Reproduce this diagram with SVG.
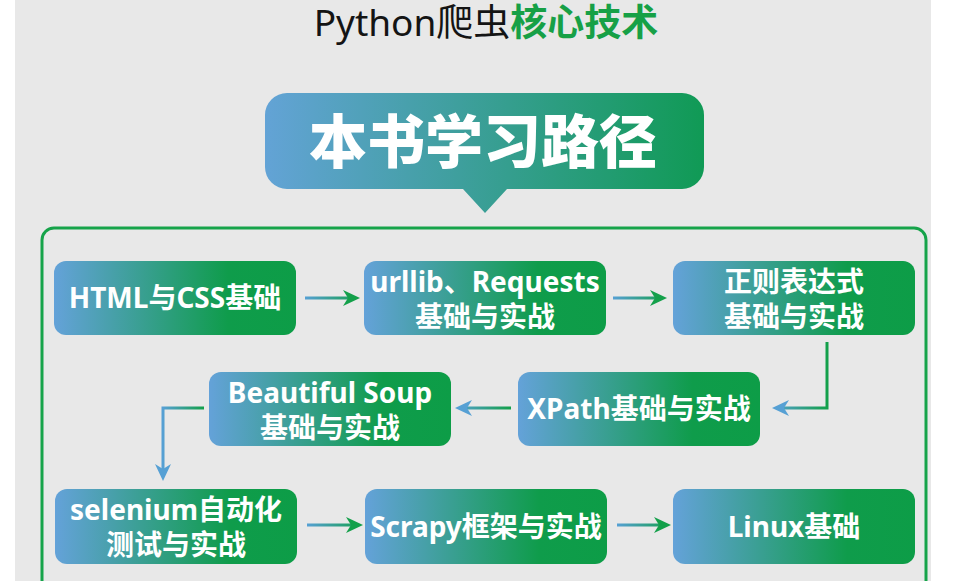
<svg xmlns="http://www.w3.org/2000/svg" width="972" height="581" viewBox="0 0 972 581">
<defs>
<style>
.nt{font-family:"Noto Sans","Noto Sans CJK SC",sans-serif;font-weight:700;font-size:28px;fill:#fff;text-anchor:middle}
.node rect{fill:url(#ng)}
.conn path{fill:none;stroke-width:3}
</style>
<linearGradient id="ng" x1="0" y1="0" x2="1" y2="0">
<stop offset="0" stop-color="#64a2d9"/>
<stop offset="0.72" stop-color="#0f9c4b"/>
<stop offset="1" stop-color="#0d9d47"/>
</linearGradient>
<linearGradient id="bg" x1="0" y1="0" x2="1" y2="0">
<stop offset="0" stop-color="#63a3d6"/>
<stop offset="1" stop-color="#109a55"/>
</linearGradient>
<linearGradient id="c1" gradientUnits="userSpaceOnUse" x1="305" y1="0" x2="360" y2="0"><stop offset="0" stop-color="#56a0d4"/><stop offset="1" stop-color="#13a04a"/></linearGradient>
<linearGradient id="c2" gradientUnits="userSpaceOnUse" x1="613" y1="0" x2="667" y2="0"><stop offset="0" stop-color="#56a0d4"/><stop offset="1" stop-color="#13a04a"/></linearGradient>
<linearGradient id="c3" gradientUnits="userSpaceOnUse" x1="772" y1="0" x2="827" y2="0"><stop offset="0" stop-color="#56a0d4"/><stop offset="1" stop-color="#13a04a"/></linearGradient>
<linearGradient id="c4" gradientUnits="userSpaceOnUse" x1="455" y1="0" x2="511" y2="0"><stop offset="0" stop-color="#56a0d4"/><stop offset="1" stop-color="#13a04a"/></linearGradient>
<linearGradient id="c5" gradientUnits="userSpaceOnUse" x1="163" y1="0" x2="204" y2="0"><stop offset="0" stop-color="#56a0d4"/><stop offset="1" stop-color="#13a04a"/></linearGradient>
<linearGradient id="c6" gradientUnits="userSpaceOnUse" x1="307" y1="0" x2="363" y2="0"><stop offset="0" stop-color="#56a0d4"/><stop offset="1" stop-color="#13a04a"/></linearGradient>
<linearGradient id="c7" gradientUnits="userSpaceOnUse" x1="617" y1="0" x2="671" y2="0"><stop offset="0" stop-color="#56a0d4"/><stop offset="1" stop-color="#13a04a"/></linearGradient>
<marker id="hg" viewBox="0 0 17 16" refX="5" refY="8" markerWidth="17" markerHeight="16" markerUnits="userSpaceOnUse" orient="auto">
<path d="M0,0 L17,8 L0,16 L5,8 Z" fill="#13a04a"/>
</marker>
<marker id="hb" viewBox="0 0 17 16" refX="5" refY="8" markerWidth="17" markerHeight="16" markerUnits="userSpaceOnUse" orient="auto">
<path d="M0,0 L17,8 L0,16 L5,8 Z" fill="#56a0d4"/>
</marker>
</defs>
<rect x="0" y="0" width="972" height="581" fill="#ffffff"/>
<rect x="15" y="0" width="916" height="581" fill="#e8e8e8"/>

<text x="486" y="36" text-anchor="middle" font-family="'Noto Sans','Noto Sans CJK SC',sans-serif" font-size="37"><tspan fill="#141414">Python爬虫</tspan><tspan fill="#17a046" font-weight="700">核心技术</tspan></text>

<g id="title-bubble">
<path d="M287,93 H682 A22,22 0 0 1 704,115 V167 A22,22 0 0 1 682,189 H507 L485,213 L463,189 H287 A22,22 0 0 1 265,167 V115 A22,22 0 0 1 287,93 Z" fill="url(#bg)"/>
<text x="483" y="163" text-anchor="middle" font-family="'Noto Sans CJK SC',sans-serif" font-weight="900" font-size="58" fill="#fff">本书学习路径</text>
</g>

<rect x="42" y="228" width="884" height="400" rx="12" fill="none" stroke="#16a34a" stroke-width="3"/>

<g id="n1" class="node"><rect x="54" y="261" width="242" height="74" rx="12"/><text class="nt" x="175" y="308">HTML与CSS基础</text></g>
<g id="n2" class="node"><rect x="364" y="261" width="242" height="74" rx="12"/><text class="nt" x="485" y="292">urllib、Requests</text><text class="nt" x="485" y="327">基础与实战</text></g>
<g id="n3" class="node"><rect x="673" y="261" width="242" height="74" rx="12"/><text class="nt" x="794" y="292">正则表达式</text><text class="nt" x="794" y="327">基础与实战</text></g>
<g id="n4" class="node"><rect x="518" y="372" width="242" height="74" rx="12"/><text class="nt" x="639" y="419">XPath基础与实战</text></g>
<g id="n5" class="node"><rect x="209" y="372" width="242" height="74" rx="12"/><text class="nt" x="330" y="403">Beautiful Soup</text><text class="nt" x="330" y="438">基础与实战</text></g>
<g id="n6" class="node"><rect x="55" y="489" width="242" height="75" rx="12"/><text class="nt" x="176" y="520">selenium自动化</text><text class="nt" x="176" y="555">测试与实战</text></g>
<g id="n7" class="node"><rect x="365" y="489" width="242" height="75" rx="12"/><text class="nt" x="486" y="537">Scrapy框架与实战</text></g>
<g id="n8" class="node"><rect x="673" y="489" width="242" height="75" rx="12"/><text class="nt" x="794" y="537">Linux基础</text></g>

<g id="connectors" class="conn">
<path d="M305,298 H348" stroke="url(#c1)" marker-end="url(#hg)"/>
<path d="M613,298 H655" stroke="url(#c2)" marker-end="url(#hg)"/>
<path d="M827,342 V408 H784" stroke="url(#c3)" marker-end="url(#hb)"/>
<path d="M511,408 H467" stroke="url(#c4)" marker-end="url(#hb)"/>
<path d="M204,408 H163 V469" stroke="url(#c5)" marker-end="url(#hb)"/>
<path d="M307,525 H351" stroke="url(#c6)" marker-end="url(#hg)"/>
<path d="M617,525 H659" stroke="url(#c7)" marker-end="url(#hg)"/>
</g>
</svg>
